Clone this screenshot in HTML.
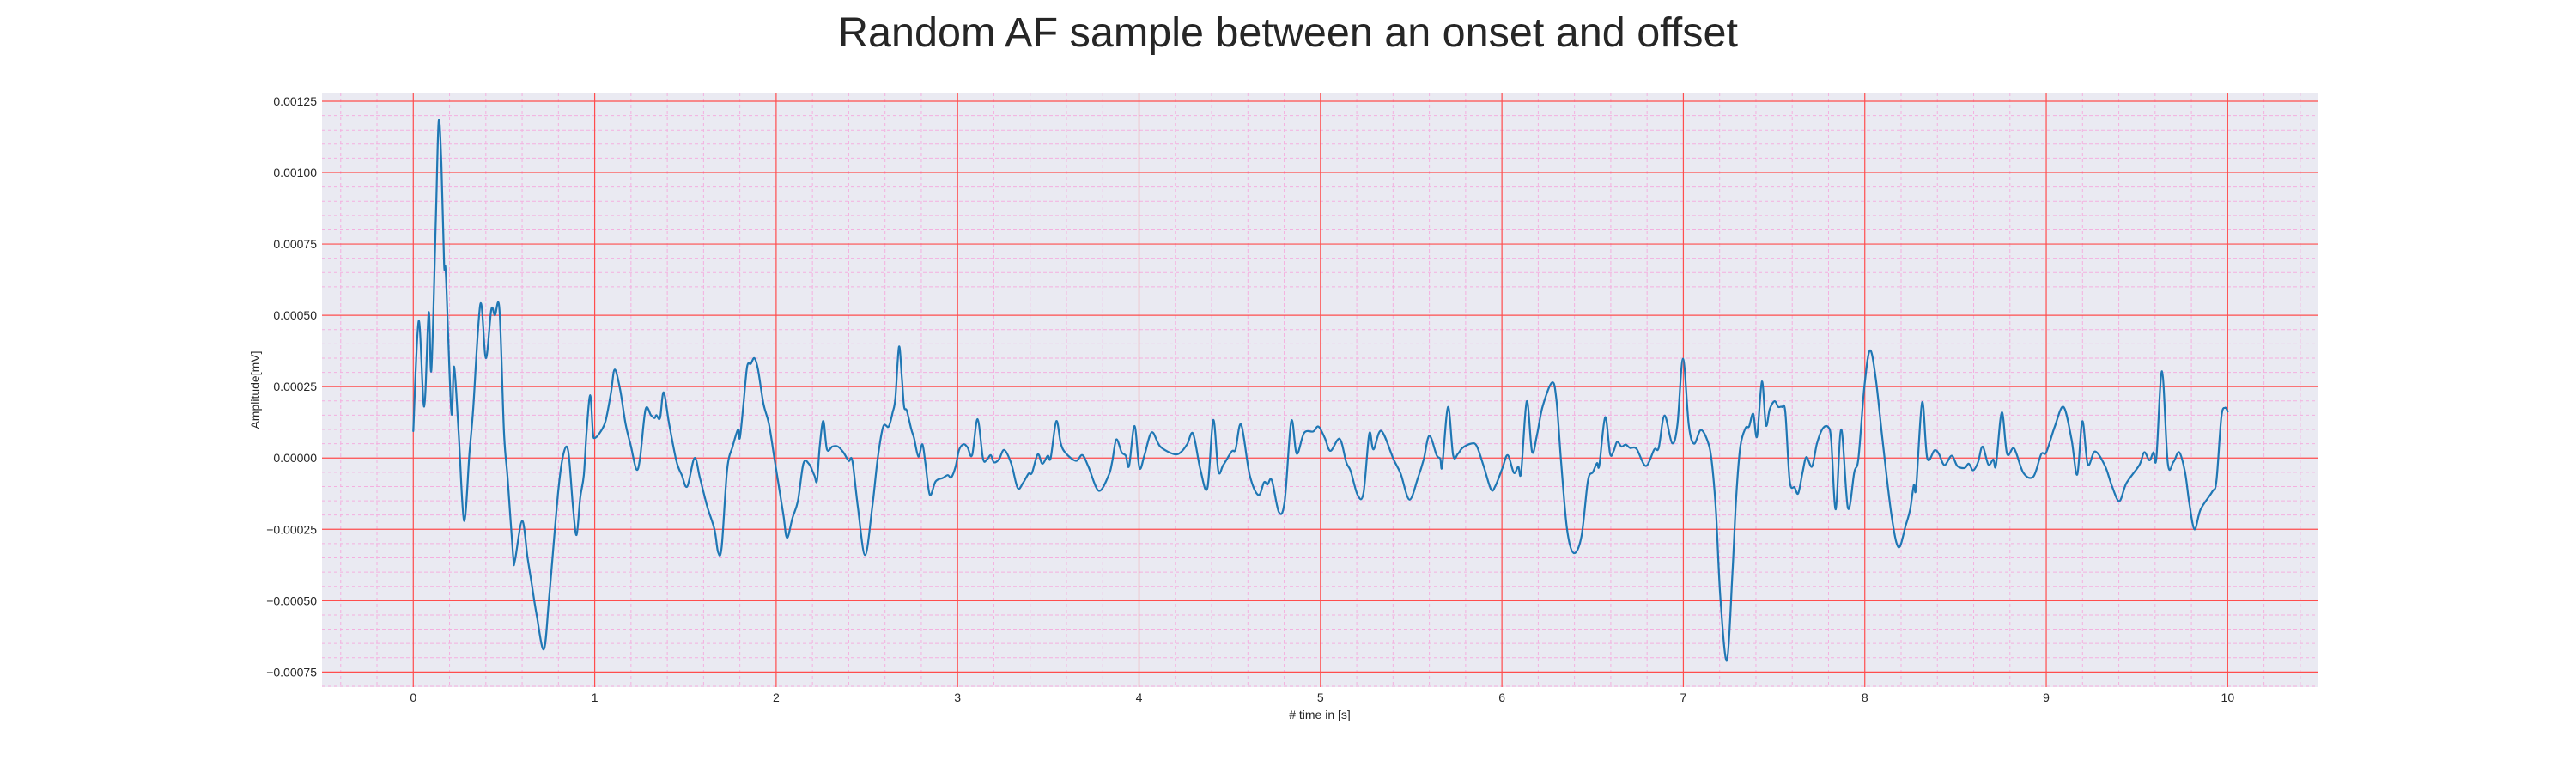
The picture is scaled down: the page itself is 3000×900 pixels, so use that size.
<!DOCTYPE html>
<html>
<head>
<meta charset="utf-8">
<style>
html,body{margin:0;padding:0;background:#fff;}
svg{display:block;font-family:"Liberation Sans",Arial,sans-serif;}
</style>
</head>
<body>
<svg id="chart" width="3000" height="900" viewBox="0 0 3000 900" xmlns="http://www.w3.org/2000/svg">
  <rect x="0" y="0" width="3000" height="900" fill="#ffffff"/>
  <text x="1500" y="54" text-anchor="middle" font-size="48.5" fill="#262626">Random AF sample between an onset and offset</text>
  <rect x="375" y="108" width="2325" height="692" fill="#eaeaf2"/>
  <g id="grid-minor"></g>
  <g id="grid-major"></g>
  <g id="series"></g>
  <g id="yticks"></g>
  <g id="xticks"></g>
  <text x="1537" y="837" text-anchor="middle" font-size="14" fill="#262626"># time in [s]</text>
  <text x="302" y="454" text-anchor="middle" font-size="14" fill="#262626" transform="rotate(-90 302 454)">Amplitude[mV]</text>
</svg>
<script>
// Data (time in s, amplitude in 1e-4 mV)
const times = [0,0.03,0.06,0.085,0.10,0.125,0.14,0.155,0.17,0.18,0.21,0.225,0.25,0.28,0.31,0.33,0.37,0.40,0.43,0.45,0.475,0.5,0.52,0.55,0.56,0.6,0.63,0.65,0.68,0.72,0.75,0.8,0.83,0.855,0.88,0.9,0.92,0.94,0.955,0.975,0.99,1.0,1.03,1.06,1.09,1.11,1.14,1.17,1.2,1.23,1.25,1.28,1.31,1.33,1.34,1.36,1.38,1.41,1.45,1.48,1.51,1.55,1.58,1.62,1.66,1.68,1.70,1.73,1.76,1.79,1.80,1.82,1.84,1.86,1.88,1.90,1.93,1.96,1.99,2.01,2.04,2.06,2.09,2.12,2.15,2.18,2.21,2.225,2.24,2.26,2.28,2.31,2.34,2.37,2.40,2.42,2.45,2.49,2.53,2.56,2.59,2.62,
2.642,2.657,2.677,2.693,2.705,2.72,2.745,2.76,2.784,2.806,2.823,2.847,2.879,2.918,2.946,2.965,2.989,3.008,3.033,3.055,3.08,3.11,3.14,3.162,3.183,3.2,3.228,3.257,3.296,3.331,3.36,3.391,3.41,3.442,3.467,3.497,3.513,3.544,3.569,3.596,3.652,3.688,3.722,3.778,3.833,3.853,3.875,3.904,3.927,3.945,3.975,4.002,4.03,4.07,4.117,4.196,4.235,4.267,4.298,4.338,4.377,4.409,4.437,4.464,4.511,4.532,4.563,4.61,4.658,4.689,4.708,4.732,4.771,4.803,4.839,4.869,4.91,4.96,4.989,5.024,
5.055,5.106,5.142,5.166,5.205,5.237,5.269,5.292,5.335,5.403,5.442,5.49,5.537,5.569,5.6,5.64,5.66,5.671,5.703,5.731,5.758,5.782,5.829,5.861,5.9,5.94,5.964,6.003,6.032,6.066,6.09,6.106,6.137,6.166,6.193,6.224,6.276,6.3,6.327,6.359,6.395,6.438,6.474,6.501,6.524,6.537,6.569,6.596,6.616,6.635,6.659,6.682,6.706,6.742,6.793,6.84,6.864,6.896,6.938,6.967,6.998,7.03,7.059,7.096,7.133,7.156,7.18,7.204,7.24,7.27,7.291,7.314,7.343,7.362,7.385,7.406,7.433,7.455,7.476,7.503,7.523,7.543,7.562,7.586,7.613,7.633,7.657,7.678,7.709,7.736,7.768,7.799,7.815,7.84,7.87,7.907,7.942,7.965,7.997,8.028,8.06,8.1,8.147,8.186,8.226,8.25,8.27,8.283,8.316,8.344,8.384,8.408,8.439,8.479,8.51,8.55,8.573,8.597,8.624,8.649,8.681,8.708,8.723,8.755,8.784,8.823,8.874,8.929,8.972,9.0,9.047,9.095,9.139,9.171,9.199,9.229,9.269,9.324,9.363,9.403,9.442,9.513,9.54,9.569,9.591,9.607,9.638,9.67,9.701,9.733,9.765,9.788,9.817,9.851,9.915,9.938,9.965,9.986,10.0];
const amplitudes = [0.94,4.8,1.8,5.1,3.1,8.5,11.8,10.3,6.8,6.4,1.6,3.2,0.9,-2.2,0.2,1.7,5.4,3.5,5.2,5.0,5.2,0.9,-0.7,-3.4,-3.6,-2.2,-3.5,-4.3,-5.5,-6.7,-4.8,-1.1,0.2,0.2,-1.7,-2.7,-1.4,-0.6,0.9,2.2,0.9,0.7,0.9,1.3,2.3,3.1,2.4,1.2,0.4,-0.4,0.0,1.7,1.5,1.4,1.5,1.4,2.3,1.2,-0.1,-0.6,-1.0,0.0,-0.7,-1.7,-2.5,-3.3,-3.1,-0.4,0.4,1.0,0.7,1.9,3.2,3.3,3.5,3.1,1.9,1.2,0.0,-0.8,-2.0,-2.8,-2.1,-1.5,-0.2,-0.2,-0.6,-0.8,0.4,1.3,0.3,0.4,0.4,0.2,-0.1,-0.1,-1.7,-3.4,-1.7,0.0,1.1,1.1,
1.6,2.1,3.9,2.8,1.8,1.66,1.0,0.7,0.05,0.48,-0.2,-1.29,-0.82,-0.7,-0.6,-0.68,-0.3,0.28,0.48,0.37,0.1,1.36,-0.02,-0.05,0.1,-0.15,-0.05,0.28,-0.2,-1.05,-0.88,-0.55,-0.52,0.13,-0.2,0.08,0.0,1.29,0.5,0.17,-0.1,0.1,-0.32,-1.15,-0.6,-0.1,0.65,0.2,0.08,-0.28,1.12,-0.34,0.1,0.9,0.4,0.13,0.23,0.5,0.85,-0.4,-1.05,1.33,-0.45,-0.25,0.23,0.3,1.17,-0.6,-1.3,-0.85,-0.93,-0.78,-1.9,-1.5,1.29,0.15,0.88,0.93,1.1,0.7,
0.25,0.67,-0.15,-0.45,-1.3,-1.23,0.85,0.3,0.95,-0.05,-0.55,-1.46,-0.7,-0.05,0.78,0.1,-0.02,-0.28,1.79,0.1,0.15,0.35,0.5,0.42,-0.3,-1.1,-0.98,-0.35,0.1,-0.52,-0.3,-0.5,1.99,0.22,0.8,1.8,2.64,2.06,-0.2,-2.5,-3.33,-2.76,-0.8,-0.5,-0.18,-0.25,1.43,0.15,0.25,0.57,0.4,0.47,0.35,0.32,-0.28,0.3,0.35,1.49,0.52,1.15,3.48,1.15,0.5,0.98,0.6,-0.1,-1.9,-4.9,-7.1,-4.1,-1.4,0.4,1.05,1.1,1.55,0.75,2.68,1.15,1.71,1.99,1.79,1.79,1.6,-0.8,-1.03,-1.24,-0.5,0.03,-0.3,0.5,1.03,1.08,0.6,-1.8,1.0,-1.76,-0.5,0.0,2.46,3.77,2.8,0.5,-2.0,-3.13,-2.35,-1.8,-0.95,-1.03,1.95,0.0,0.27,0.15,-0.25,0.08,-0.28,-0.35,-0.2,-0.43,-0.15,0.4,-0.23,-0.05,-0.25,1.6,0.15,0.33,-0.52,-0.65,0.13,0.2,1.1,1.79,0.67,-0.58,1.29,-0.22,0.23,-0.28,-1.0,-1.51,-0.88,-0.25,0.2,-0.08,0.2,0.0,3.04,-0.18,-0.14,0.2,-0.5,-1.56,-2.5,-1.8,-1.18,-0.8,1.43,1.76,1.63];
const xTickValues = [0,1,2,3,4,5,6,7,8,9,10];
const xTickLabels = ["0","1","2","3","4","5","6","7","8","9","10"];
const yTickValues = [-0.00075,-0.0005,-0.00025,0,0.00025,0.0005,0.00075,0.001,0.00125];
const yTickLabels = ["\u22120.00075","\u22120.00050","\u22120.00025","0.00000","0.00025","0.00050","0.00075","0.00100","0.00125"];

const NS = "http://www.w3.org/2000/svg";
const L = 375, R = 2700, T = 108, B = 800;
const X0 = -0.503, X1 = 10.5;
const Y0 = -0.000803, Y1 = 0.00128;
function sx(t){ return L + (t - X0) / (X1 - X0) * (R - L); }
function sy(v){ return B - (v - Y0) / (Y1 - Y0) * (B - T); }
function mk(tag, attrs, parent){
  const el = document.createElementNS(NS, tag);
  for (const k in attrs) el.setAttribute(k, attrs[k]);
  parent.appendChild(el);
  return el;
}
const gMinor = document.getElementById('grid-minor');
const gMajor = document.getElementById('grid-major');
const gSeries = document.getElementById('series');
const gY = document.getElementById('yticks');
const gX = document.getElementById('xticks');

for (let i = -2; i <= 52; i++) {
  const t = i * 0.2;
  if (i % 5 === 0) continue;
  const x = sx(t);
  if (x < L || x > R) continue;
  const ln = mk('line', {x1:x, x2:x, y1:T, y2:B, stroke:'#f4b0df', 'stroke-width':1, 'stroke-dasharray':'4,3'}, gMinor);
  
  
}
for (let i = -17; i <= 26; i++) {
  if (i % 5 === 0) continue;
  const y = sy(i * 0.00005);
  if (y < T || y > B) continue;
  const ln = mk('line', {x1:L, x2:R, y1:y, y2:y, stroke:'#f4b0df', 'stroke-width':1, 'stroke-dasharray':'4,3'}, gMinor);
  
  
}
xTickValues.forEach((v, i) => {
  const x = sx(v);
  const ln = mk('line', {x1:x, x2:x, y1:T, y2:B, stroke:'#ff4d4d', 'stroke-width':1.2}, gMajor);
  
  
  const tx = mk('text', {x:x, y:817, 'text-anchor':'middle', 'font-size':14, fill:'#262626'}, gX);
  tx.textContent = xTickLabels[i];
  
  
});
yTickValues.forEach((v, i) => {
  const y = sy(v);
  const ln = mk('line', {x1:L, x2:R, y1:y, y2:y, stroke:'#ff4d4d', 'stroke-width':1.2}, gMajor);
  
  
  const tx = mk('text', {x:369, y:y + 5, 'text-anchor':'end', 'font-size':14, fill:'#262626'}, gY);
  tx.textContent = yTickLabels[i];
  
  
});
const pts = times.map((t, i) => [sx(t), sy(amplitudes[i] * 1e-4)]);
let d = 'M' + pts[0][0].toFixed(2) + ',' + pts[0][1].toFixed(2);
for (let i = 0; i < pts.length - 1; i++) {
  const p0 = pts[Math.max(0, i - 1)], p1 = pts[i], p2 = pts[i + 1], p3 = pts[Math.min(pts.length - 1, i + 2)];
  const c1x = p1[0] + (p2[0] - p0[0]) / 6, c1y = p1[1] + (p2[1] - p0[1]) / 6;
  const c2x = p2[0] - (p3[0] - p1[0]) / 6, c2y = p2[1] - (p3[1] - p1[1]) / 6;
  d += ' C' + c1x.toFixed(2) + ',' + c1y.toFixed(2) + ' ' + c2x.toFixed(2) + ',' + c2y.toFixed(2) + ' ' + p2[0].toFixed(2) + ',' + p2[1].toFixed(2);
}
const path = mk('path', {d:d, fill:'none', stroke:'#1f77b4', 'stroke-width':2.2, 'stroke-linejoin':'round', 'stroke-linecap':'round'}, gSeries);


</script>
</body>
</html>
